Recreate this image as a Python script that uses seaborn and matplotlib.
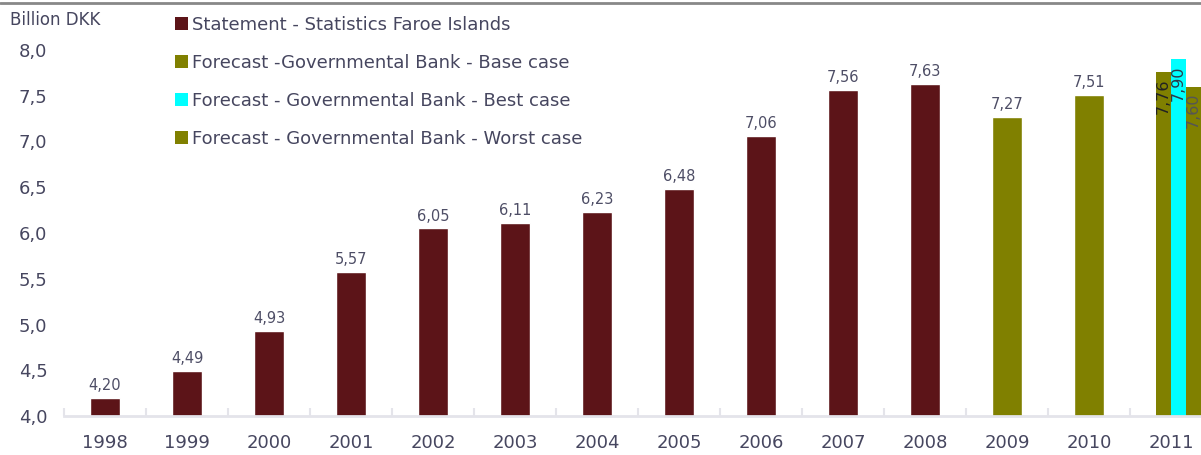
import matplotlib
matplotlib.use("Agg")
import matplotlib.pyplot as plt
from matplotlib.patches import Patch
from matplotlib.lines import Line2D
import seaborn as sns
import pandas as pd

# Annual values, billion DKK
years = ["1998", "1999", "2000", "2001", "2002", "2003", "2004",
         "2005", "2006", "2007", "2008", "2009", "2010", "2011"]
statement_years = ["1998", "1999", "2000", "2001", "2002", "2003",
                   "2004", "2005", "2006", "2007", "2008"]
statement_values = [4.20, 4.49, 4.93, 5.57, 6.05, 6.11, 6.23, 6.48,
                    7.06, 7.56, 7.63]
base_years = ["2009", "2010"]
base_values = [7.27, 7.51]
# 2011 scenarios
scenario_year = "2011"
scenario_base = 7.76
scenario_best = 7.90
scenario_worst = 7.60

series_names = ["Statement - Statistics Faroe Islands",
                "Forecast -Governmental Bank - Base case",
                "Forecast - Governmental Bank - Best case",
                "Forecast - Governmental Bank - Worst case"]
series_colors = ["#5c1418", "#808000", "#00ffff", "#808000"]
y_ticks = [4.0, 4.5, 5.0, 5.5, 6.0, 6.5, 7.0, 7.5, 8.0]

TEXT = "#46465f"

sns.set_theme(style="white")
plt.rcParams["font.family"] = ["DejaVu Sans"]

fig = plt.figure(figsize=(12.01, 4.55), dpi=100)
ax = fig.add_axes([64 / 1201, 39 / 455, (1212 - 64) / 1201, (405 - 39) / 455])

main = pd.DataFrame({
    "year": statement_years + base_years,
    "value": statement_values + base_values,
    "series": [series_names[0]] * len(statement_years)
              + [series_names[1]] * len(base_years),
})
palette = dict(zip(series_names, series_colors))

sns.barplot(data=main, x="year", y="value", hue="series", order=years,
            hue_order=series_names[:2], palette=palette, dodge=False,
            width=0.37, saturation=1, legend=False, ax=ax)

for cont in ax.containers:
    ax.bar_label(cont, labels=[f"{v:.2f}".replace(".", ",") for v in cont.datavalues],
                 padding=3.5, fontsize=10.5, color="#4e4e66")

# 2011: four-slot cluster (statement slot empty)
idx = years.index(scenario_year)
slot = 0.183
scen_vals = [None, scenario_base, scenario_best, scenario_worst]
label_colors = ["#222222", "#2a3a4a", "#555555"]
for k, v in enumerate(scen_vals):
    if v is None:
        continue
    xc = idx + (k - 1.5) * slot
    ax.bar(xc, v - 4.0, bottom=4.0, width=slot, color=series_colors[k],
           linewidth=0, clip_on=False)
    ax.annotate(f"{v:.2f}".replace(".", ","), (xc, v), xytext=(0, -4.5),
                textcoords="offset points", rotation=90, ha="center", va="top",
                fontsize=11.5, color=label_colors[k - 1], annotation_clip=False)

ax.set_ylim(4.0, 8.0)
ax.set_xlim(-0.5, len(years) - 0.5)
ax.set_yticks(y_ticks)
ax.set_yticklabels([f"{t:.1f}".replace(".", ",") for t in y_ticks])
ax.set_xlabel("")
ax.set_ylabel("")

for s in ["top", "right", "left"]:
    ax.spines[s].set_visible(False)
ax.spines["bottom"].set_color("#e4e4ea")
ax.spines["bottom"].set_linewidth(2)

ax.tick_params(axis="x", which="major", length=0, pad=13, labelsize=13,
               labelcolor=TEXT)
ax.set_xticks([i - 0.5 for i in range(len(years) + 1)], minor=True)
ax.tick_params(axis="x", which="minor", direction="in", length=6, width=1.5,
               color="#e4e4ea", bottom=True)
ax.tick_params(axis="y", length=0, pad=12, labelsize=13, labelcolor=TEXT)

fig.text(10 / 1201, 1 - 20 / 455, "Billion DKK", fontsize=12, color=TEXT,
         ha="left", va="center")

handles = [Patch(facecolor=c, edgecolor="none") for c in series_colors]
fig.legend(handles, series_names, loc="upper left",
           bbox_to_anchor=(175 / 1201, 1 - 16 / 455), frameon=False,
           fontsize=13, labelcolor=TEXT, handlelength=0.7, handleheight=0.7,
           handletextpad=0.25, labelspacing=1.1, borderaxespad=0, borderpad=0)

fig.add_artist(Line2D([0, 1], [1 - 2.5 / 455, 1 - 2.5 / 455],
                      transform=fig.transFigure, color="#888888", linewidth=2))

fig.savefig("out.png", dpi=100)
